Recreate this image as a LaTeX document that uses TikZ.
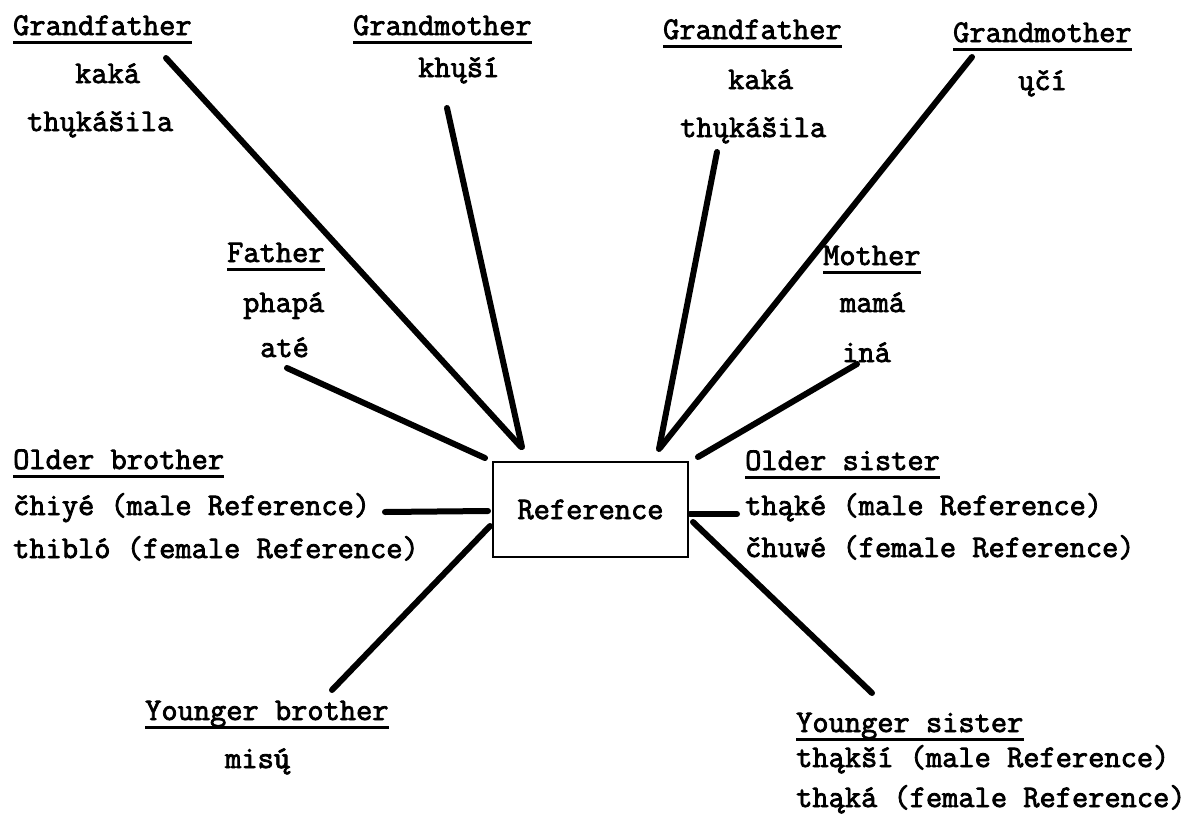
\documentclass[tikz,border=0pt]{standalone}
\usepackage{fontspec}
\newfontfamily\tw{Latin Modern Mono}[FakeBold=2.5]
\begin{document}
\begin{tikzpicture}[x=1pt,y=-1pt,
  font=\tw\fontsize{31.5}{37}\selectfont,
  lbl/.style={anchor=base west, inner sep=0pt},
  conn/.style={line width=6pt, line cap=round},
  ul/.style={line width=3pt},
  refbox/.style={draw, line width=2pt, minimum width=195pt, minimum height=95pt, inner sep=0pt}]
\useasboundingbox (0,0) rectangle (1195,833);

% labels
\node[lbl] (gfL) at (13,35) {Grandfather};
\node[lbl] (kakaL) at (75,83) {kaká};
\node[lbl] (thukL) at (27,131) {thųkášila};
\node[lbl] (gmL) at (353,35) {Grandmother};
\node[lbl] (khusi) at (418,77) {khųší};
\node[lbl] (gfR) at (663,39) {Grandfather};
\node[lbl] (kakaR) at (728,89) {kaká};
\node[lbl] (thukR) at (680,137) {thųkášila};
\node[lbl] (gmR) at (953,42) {Grandmother};
\node[lbl] (uci) at (1018,90) {ųčí};
\node[lbl] (father) at (227,262) {Father};
\node[lbl] (phapa) at (243,312) {phapá};
\node[lbl] (ate) at (260,357) {até};
\node[lbl] (mother) at (823,265) {Mother};
\node[lbl] (mama) at (840,312) {mamá};
\node[lbl] (ina) at (842,362) {iná};
\node[lbl] (obro) at (13,469) {Older brother};
\node[lbl] (chiye) at (13,515) {čhiyé (male Reference)};
\node[lbl] (thiblo) at (13,558) {thibló (female Reference)};
\node[lbl] (osis) at (745,470) {Older sister};
\node[lbl] (thake) at (745,515) {thąké (male Reference)};
\node[lbl] (chuwe) at (745,557) {čhuwé (female Reference)};
\node[lbl] (ybro) at (145,720) {Younger brother};
\node[lbl] (misu) at (225,768) {mis\rlap{ú}ų};
\node[lbl] (ysis) at (796,732) {Younger sister};
\node[lbl] (thaksi) at (796,767) {thąkší (male Reference)};
\node[lbl] (thaka) at (796,807) {thąká (female Reference)};

\node[refbox] (ref) at (590.5,509.5) {Reference};

% underlines
\foreach \n in {gfL,gmL,gfR,gmR,father,mother,obro,osis,ybro,ysis}
  \draw[ul] ([yshift=-7pt]\n.base west) -- ([yshift=-7pt]\n.base east);

% connector ends
\coordinate (a1) at (166,58);   \coordinate (b1) at (521,447);
\coordinate (a2) at (447,108);  \coordinate (b2) at (522,447);
\coordinate (a3) at (287,368);  \coordinate (b3) at (485,458);
\coordinate (a4) at (717,152);  \coordinate (b4) at (659,449);
\coordinate (a5) at (972,57);   \coordinate (b5) at (660,448);
\coordinate (a6) at (857,364);  \coordinate (b6) at (698,457);
\coordinate (a7) at (385,512);  \coordinate (b7) at (488,511);
\coordinate (a8) at (737,514);  \coordinate (b8) at (690,514);
\coordinate (a9) at (332,690);  \coordinate (b9) at (490,526);
\coordinate (a10) at (872,693); \coordinate (b10) at (693,522);

\foreach \i in {1,...,10}
  \draw[conn] (a\i) -- (b\i);
\end{tikzpicture}
\end{document}
